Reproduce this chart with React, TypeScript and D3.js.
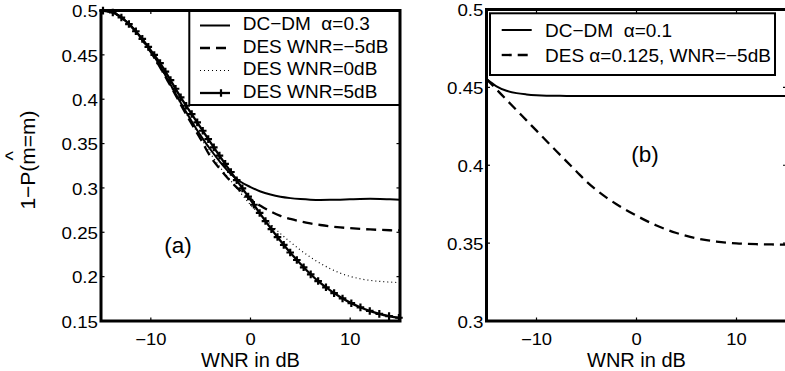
import React, { useEffect, useRef } from "react";
import * as d3 from "d3";

// ---- data ----
const wnrDb = [-15, -14, -13, -12, -11, -10, -9, -8, -7, -6, -5, -4, -3, -2, -1, 0, 1, 2, 3, 4, 5, 6, 7, 8, 9, 10, 11, 12, 13, 14, 15];

// panel (a)
const dcdmAlpha03 = [0.5, 0.4985, 0.4925, 0.4825, 0.4695, 0.454, 0.436, 0.416, 0.396, 0.377, 0.359, 0.343, 0.3285, 0.316, 0.307, 0.301, 0.296, 0.2925, 0.29, 0.2885, 0.2875, 0.2868, 0.2865, 0.2866, 0.2868, 0.2872, 0.2876, 0.2878, 0.2876, 0.2872, 0.2868];
const desWnrM5 = [0.5, 0.4985, 0.4925, 0.4825, 0.469, 0.453, 0.4345, 0.4145, 0.394, 0.374, 0.355, 0.335, 0.3205, 0.3075, 0.2965, 0.2875, 0.2798, 0.2735, 0.2685, 0.265, 0.2622, 0.26, 0.2582, 0.2567, 0.2555, 0.2546, 0.2538, 0.2532, 0.2527, 0.2523, 0.252];
const desWnr0 = [0.5, 0.4985, 0.4925, 0.4825, 0.4692, 0.4535, 0.435, 0.415, 0.395, 0.375, 0.3565, 0.3385, 0.3225, 0.3085, 0.2945, 0.281, 0.2695, 0.259, 0.2485, 0.239, 0.23, 0.222, 0.215, 0.209, 0.204, 0.2003, 0.1976, 0.1958, 0.1946, 0.1938, 0.1932];
const desWnr5 = [0.5, 0.4985, 0.4925, 0.4825, 0.47, 0.455, 0.4395, 0.421, 0.402, 0.385, 0.368, 0.351, 0.3345, 0.3185, 0.3025, 0.2865, 0.2705, 0.255, 0.2405, 0.227, 0.2145, 0.203, 0.193, 0.1845, 0.177, 0.1707, 0.1655, 0.1612, 0.1578, 0.1553, 0.1535];

// panel (b)
const dcdmAlpha01 = [0.4553, 0.4507, 0.4478, 0.4463, 0.4455, 0.445, 0.4447, 0.4446, 0.4445, 0.4445, 0.4445, 0.4445, 0.4445, 0.4445, 0.4445, 0.4445, 0.4445, 0.4445, 0.4445, 0.4445, 0.4445, 0.4445, 0.4445, 0.4445, 0.4445, 0.4445, 0.4445, 0.4445, 0.4445, 0.4445, 0.4445];
const desAlpha0125 = [0.4553, 0.4487, 0.442, 0.4354, 0.4288, 0.4222, 0.4156, 0.409, 0.4025, 0.396, 0.3895, 0.384, 0.3792, 0.375, 0.3711, 0.3676, 0.3643, 0.3613, 0.3587, 0.3565, 0.3546, 0.3531, 0.3519, 0.351, 0.3503, 0.3498, 0.3495, 0.3493, 0.3492, 0.3491, 0.349];

const xTicks = [-10, 0, 10];
const yTicksA = [0.15, 0.2, 0.25, 0.3, 0.35, 0.4, 0.45, 0.5];
const yTicksB = [0.3, 0.35, 0.4, 0.45, 0.5];
const legendA = ["DC\u2212DM  \u03b1=0.3", "DES WNR=\u22125dB", "DES WNR=0dB", "DES WNR=5dB"];
const legendB = ["DC\u2212DM  \u03b1=0.1", "DES \u03b1=0.125, WNR=\u22125dB"];
const xLabel = "WNR in dB";
const panelTags = ["(a)", "(b)"];

const FONT = "'Liberation Sans', Arial, Helvetica, sans-serif";

type Style = "solid" | "dashed" | "dotted" | "plus";

function applyStyle(sel: any, s: Style) {
  sel.attr("fill", "none").attr("stroke", "#000").attr("stroke-linejoin", "round");
  if (s === "solid") sel.attr("stroke-width", 2);
  if (s === "dashed") sel.attr("stroke-width", 2.3).attr("stroke-dasharray", "10,6");
  if (s === "dotted") sel.attr("stroke-width", 1.2).attr("stroke-dasharray", "1,3");
  if (s === "plus") sel.attr("stroke-width", 2.3);
}

function plus(g: any, px: number, py: number) {
  const r = 3.8;
  g.append("path")
    .attr("d", `M${px - r},${py}H${px + r}M${px},${py - r}V${py + r}`)
    .attr("stroke", "#000")
    .attr("stroke-width", 2.2)
    .attr("fill", "none");
}

interface PanelCfg {
  x0: number; x1: number; y0: number; y1: number;
  yDomain: [number, number];
  yTicks: number[];
  series: { values: number[]; style: Style }[];
  legend: { labels: string[]; styles: Style[]; box: [number, number, number, number]; rows: number[]; lx0: number; lx1: number; tx: number; base: number };
  tag: string; tagX: number; tagY: number;
  yLabel: boolean;
}

function drawPanel(svg: any, c: PanelCfg) {
  const x = d3.scaleLinear().domain([-15, 15]).range([c.x0, c.x1]);
  const y = d3.scaleLinear().domain(c.yDomain).range([c.y1, c.y0]);
  const g = svg.append("g");

  const line = d3.line<number>()
    .x((_, i) => x(wnrDb[i]))
    .y((d) => y(d))
    .curve(d3.curveMonotoneX);

  c.series.forEach((s) => {
    const p = g.append("path").attr("d", line(s.values));
    applyStyle(p, s.style);
    if (s.style === "plus") {
      const node = p.node() as SVGPathElement;
      const L = node.getTotalLength();
      for (let l = 2; l <= L; l += 10) {
        const pt = node.getPointAtLength(l);
        plus(g, pt.x, pt.y);
      }
    }
  });

  // ticks (inward, all four sides)
  const tl = 3.5;
  xTicks.forEach((t) => {
    g.append("line").attr("x1", x(t)).attr("x2", x(t)).attr("y1", c.y1).attr("y2", c.y1 - tl).attr("stroke", "#000").attr("stroke-width", 1.2);
    g.append("line").attr("x1", x(t)).attr("x2", x(t)).attr("y1", c.y0).attr("y2", c.y0 + tl).attr("stroke", "#000").attr("stroke-width", 1.2);
    g.append("text")
      .attr("transform", `translate(${x(t)},${c.y1 + 23.5}) scale(1.15,1)`)
      .attr("text-anchor", "middle")
      .attr("font-family", FONT)
      .attr("font-size", 16)
      .text(t < 0 ? "\u2212" + Math.abs(t) : String(t));
  });
  c.yTicks.forEach((t) => {
    g.append("line").attr("x1", c.x0).attr("x2", c.x0 + tl).attr("y1", y(t)).attr("y2", y(t)).attr("stroke", "#000").attr("stroke-width", 1.2);
    g.append("line").attr("x1", c.x1).attr("x2", c.x1 - tl).attr("y1", y(t)).attr("y2", y(t)).attr("stroke", "#000").attr("stroke-width", 1.2);
    g.append("text")
      .attr("transform", `translate(${c.x0 - 3},${y(t) + 6.8}) scale(1.15,1)`)
      .attr("text-anchor", "end")
      .attr("font-family", FONT)
      .attr("font-size", 16.3)
      .text(String(+t.toFixed(2)));
  });

  // legend
  const [bx0, by0, bx1, by1] = c.legend.box;
  g.append("rect").attr("x", bx0).attr("y", by0).attr("width", bx1 - bx0).attr("height", by1 - by0)
    .attr("fill", "#fff").attr("stroke", "#000").attr("stroke-width", 2);
  c.legend.labels.forEach((lab, i) => {
    const ry = c.legend.rows[i];
    const st = c.legend.styles[i];
    const p = g.append("path").attr("d", `M${c.legend.lx0},${ry}H${c.legend.lx1}`);
    applyStyle(p, st);
    if (st === "plus") plus(g, c.legend.lx0 + (c.legend.lx1 - c.legend.lx0) * 0.7, ry);
    g.append("text")
      .attr("x", c.legend.tx)
      .attr("y", ry + c.legend.base)
      .attr("font-family", FONT)
      .attr("font-size", 19)
      .style("white-space", "pre")
      .text(lab);
  });

  // frame
  g.append("rect").attr("x", c.x0).attr("y", c.y0).attr("width", c.x1 - c.x0).attr("height", c.y1 - c.y0)
    .attr("fill", "none").attr("stroke", "#000").attr("stroke-width", 3);

  // tag
  g.append("text").attr("x", c.tagX).attr("y", c.tagY).attr("text-anchor", "middle")
    .attr("font-family", FONT).attr("font-size", 22.5).text(c.tag);

  // x label
  g.append("text").attr("x", (c.x0 + c.x1) / 2).attr("y", 366.5).attr("text-anchor", "middle")
    .attr("font-family", FONT).attr("font-size", 20).text(xLabel);

  if (c.yLabel) {
    const yl = g.append("text")
      .attr("transform", `translate(35,160) rotate(-90)`)
      .attr("text-anchor", "middle")
      .attr("font-family", FONT)
      .attr("font-size", 21)
      .text("1\u2212P(m=m)");
    const node = yl.node() as SVGTextElement;
    const total = node.getComputedTextLength();
    const pre = node.getSubStringLength(0, 4);
    const mw = node.getSubStringLength(4, 1);
    const mc = -total / 2 + pre + mw / 2;
    g.append("text")
      .attr("transform", `translate(35,160) rotate(-90)`)
      .attr("x", mc)
      .attr("y", -15)
      .attr("text-anchor", "middle")
      .attr("font-family", FONT)
      .attr("font-size", 20)
      .text("^");
  }
}

export default function App() {
  const ref = useRef<SVGSVGElement>(null);
  useEffect(() => {
    document.body.style.margin = "0";
    const svg = d3.select(ref.current);
    svg.selectAll("*").remove();
    svg.append("rect").attr("width", 785).attr("height", 371).attr("fill", "#fff");
    drawPanel(svg, {
      x0: 101, x1: 400, y0: 10.5, y1: 321,
      yDomain: [0.15, 0.5], yTicks: yTicksA,
      series: [
        { values: dcdmAlpha03, style: "solid" },
        { values: desWnrM5, style: "dashed" },
        { values: desWnr0, style: "dotted" },
        { values: desWnr5, style: "plus" },
      ],
      legend: { labels: legendA, styles: ["solid", "dashed", "dotted", "plus"], box: [189.3, 11, 400, 105], rows: [25.5, 48, 70.5, 93], lx0: 200, lx1: 230, tx: 242.7, base: 4.5 },
      tag: panelTags[0], tagX: 178, tagY: 252.5, yLabel: true,
    });
    drawPanel(svg, {
      x0: 486.5, x1: 786.5, y0: 9.5, y1: 321,
      yDomain: [0.3, 0.5], yTicks: yTicksB,
      series: [
        { values: dcdmAlpha01, style: "solid" },
        { values: desAlpha0125, style: "dashed" },
      ],
      legend: { labels: legendB, styles: ["solid", "dashed"], box: [490, 13.3, 775, 75], rows: [30, 55], lx0: 501.7, lx1: 531.7, tx: 545, base: 6.5 },
      tag: panelTags[1], tagX: 645, tagY: 162, yLabel: false,
    });
  }, []);
  return (
    <svg ref={ref} width={785} height={371} style={{ position: "absolute", left: 0, top: 0, display: "block" }} />
  );
}
